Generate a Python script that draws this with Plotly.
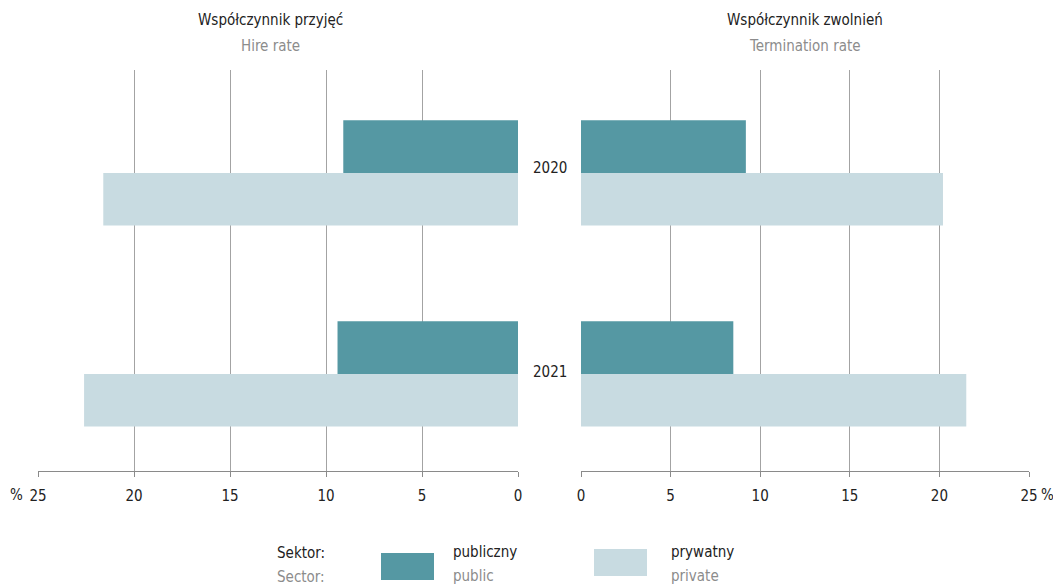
import plotly.graph_objects as go

# ---- data ----
years = ["2020", "2021"]
hire_public = [9.1, 9.4]
hire_private = [21.6, 22.6]
term_public = [9.2, 8.5]
term_private = [20.2, 21.5]
x_ticks = [0, 5, 10, 15, 20, 25]
series_names = ["publiczny", "prywatny"]
series_names_en = ["public", "private"]

C_PUB = "#5598a3"
C_PRIV = "#c8dbe1"
FONT = "Liberation Sans Narrow, DejaVu Sans Condensed, Arial Narrow, sans-serif"

W, H = 1061, 586
OFF = 8  # page body margin offset
TOP, BOT = 70 - OFF, 471 - OFF  # plot area in figure pixels


def px(x):
    return (x - OFF) / W


def py(y):
    return (BOT - (y - OFF)) / (BOT - TOP)


fig = go.Figure()
fig.add_trace(go.Bar(y=years, x=hire_public, orientation="h", marker=dict(color=C_PUB, line_width=0),
                     xaxis="x", yaxis="y", name=series_names[0], showlegend=False))
fig.add_trace(go.Bar(y=years, x=hire_private, orientation="h", marker=dict(color=C_PRIV, line_width=0),
                     xaxis="x", yaxis="y", name=series_names[1], showlegend=False))
fig.add_trace(go.Bar(y=years, x=term_public, orientation="h", marker=dict(color=C_PUB, line_width=0),
                     xaxis="x2", yaxis="y2", name=series_names[0], showlegend=False))
fig.add_trace(go.Bar(y=years, x=term_private, orientation="h", marker=dict(color=C_PRIV, line_width=0),
                     xaxis="x2", yaxis="y2", name=series_names[1], showlegend=False))

xcommon = dict(
    tickvals=x_ticks, ticktext=[str(t) for t in x_ticks],
    showgrid=True, gridcolor="#a3a3a3", gridwidth=1,
    showline=True, linecolor="#8a8a8a", linewidth=1,
    ticks="outside", ticklen=5, tickcolor="#8a8a8a",
    ticklabelstandoff=6,
    tickfont=dict(family=FONT, size=15, color="#222"),
    zeroline=False, fixedrange=True, automargin=False,
)
ycommon = dict(
    type="category", range=[1.483, -0.512], showticklabels=False,
    showgrid=False, zeroline=False, showline=False, ticks="", automargin=False,
)

fig.update_layout(
    width=W, height=H,
    margin=dict(l=0, r=0, t=TOP, b=H - BOT, autoexpand=False),
    paper_bgcolor="white", plot_bgcolor="white",
    barmode="group", bargap=0.477, bargroupgap=0,
    font=dict(family=FONT, size=15, color="#222"),
    xaxis=dict(domain=[px(38), px(518)], range=[25, 0], **xcommon),
    xaxis2=dict(domain=[px(581), px(1029)], range=[0, 25], **xcommon),
    yaxis=dict(anchor="x", **ycommon),
    yaxis2=dict(anchor="x2", **ycommon),
)

ann = []


def text(x, y, s, color="#222", size=15, xanchor="center"):
    ann.append(dict(x=px(x), y=py(y), xref="paper", yref="paper", text=s, showarrow=False,
                    xanchor=xanchor, yanchor="middle",
                    font=dict(family=FONT, size=size, color=color)))


# panel titles
text(270, 20, "Współczynnik przyjęć")
text(270, 46, "Hire rate", color="#8c8c8c")
text(805, 20, "Współczynnik zwolnień")
text(805, 46, "Termination rate", color="#8c8c8c")

# year labels between panels
text(549.5, 168, years[0])
text(549.5, 372, years[1])

# percent signs
text(16, 495, "%")
text(1047, 495, "%")

# legend
text(275, 553, "Sektor:", xanchor="left")
text(275, 577, "Sector:", color="#8c8c8c", xanchor="left")
text(451, 552, series_names[0], xanchor="left")
text(451, 576, series_names_en[0], color="#8c8c8c", xanchor="left")
text(669, 552, series_names[1], xanchor="left")
text(669, 576, series_names_en[1], color="#8c8c8c", xanchor="left")

shapes = [
    dict(type="rect", xref="paper", yref="paper", x0=px(381), x1=px(434), y0=py(580), y1=py(553),
         fillcolor=C_PUB, line_width=0),
    dict(type="rect", xref="paper", yref="paper", x0=px(594), x1=px(647), y0=py(576), y1=py(549),
         fillcolor=C_PRIV, line_width=0),
]

fig.update_layout(annotations=ann, shapes=shapes)
fig.write_html("out.html")
